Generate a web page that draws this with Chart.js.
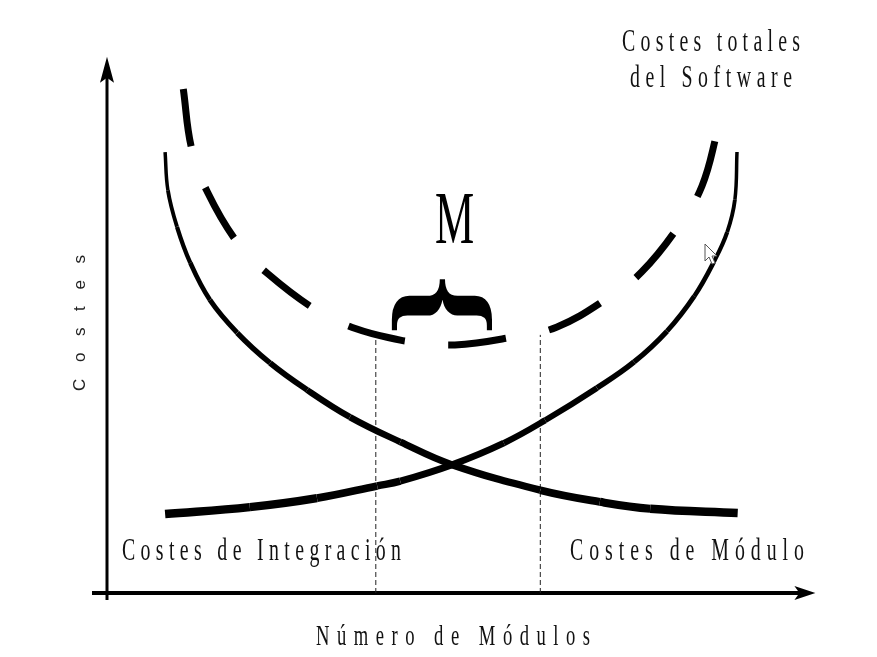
<!DOCTYPE html>
<html>
<head>
<meta charset="utf-8">
<script src="https://cdn.jsdelivr.net/npm/chart.js@4.4.0/dist/chart.umd.min.js"></script>
<style>
  html, body { margin: 0; padding: 0; background: #fff; }
  #contenedor { width: 877px; height: 657px; position: relative; }
</style>
</head>
<body>
<div id="contenedor"><canvas id="grafica"></canvas></div>
<script>
/** Datos (x = numero de modulos, y = costes, unidades arbitrarias) */
let integracion_x = [0.83, 2.04, 3.00, 3.86, 4.19, 4.93, 5.67, 6.26, 7.00, 7.53, 8.00, 8.39, 8.67, 8.86, 8.97, 9.00]
let integracion_y = [1.49, 1.62, 1.79, 2.02, 2.11, 2.42, 2.83, 3.26, 3.87, 4.36, 4.94, 5.60, 6.25, 6.81, 7.42, 8.32]

let modulo_x = [0.83, 0.87, 1.00, 1.19, 1.47, 1.86, 2.33, 2.86, 3.47, 4.19, 4.93, 6.19, 7.04, 7.76, 9.01]
let modulo_y = [8.32, 7.60, 6.91, 6.23, 5.53, 4.91, 4.34, 3.83, 3.32, 2.85, 2.42, 1.94, 1.72, 1.59, 1.51]

let total_x = [1.09, 1.21, 1.44, 1.87, 2.30, 2.99, 3.57, 4.19, 4.36, 4.97, 5.80, 6.43, 7.16, 7.64, 8.17, 8.50, 8.73]
let total_y = [9.51, 8.38, 7.55, 6.60, 6.02, 5.34, 4.98, 4.77, 4.74, 4.68, 4.83, 5.02, 5.57, 6.06, 6.93, 7.68, 8.76]

/** Zona M: limites en x y altura de las lineas punteadas */
let zona_m = [3.84, 6.19]
let altura_m = 4.87

/** Textos */
let titulo_total = ["Costes totales", "del Software"]
let etiquetas_curvas = ["Costes de Integración", "Costes de Módulo"]
let titulo_x = "Número de Módulos"
let titulo_y = "Costes"
let letra_m = "M"

/** Donde cae el origen de los ejes y cuantos pixeles mide una unidad */
let origen_px = [107, 593]
let unidad_px = [70, 53]
let tope_eje = 10.12

function puntos(xs, ys) {
    return xs.map((x, i) => ({ x: x, y: ys[i] }))
}

/** grosor variable: las curvas son mas gruesas en la parte plana */
function grosor(ctx, inicio, fin, n) {
    return inicio + (fin - inicio) * ctx.p0DataIndex / (n - 2)
}

/** letras separadas y estrechas como en el dibujo */
function texto_espaciado(ctx, texto, x0, x1, base, fuente, sx) {
    ctx.font = fuente
    let letras = [...texto]
    let anchos = letras.map(c => ctx.measureText(c).width * sx)
    let total = anchos.reduce((a, b) => a + b, 0)
    let hueco = (x1 - x0 - total) / (letras.length - 1)
    let x = x0
    letras.forEach((c, i) => {
        ctx.save()
        ctx.translate(x, base)
        ctx.scale(sx, 1)
        ctx.fillText(c, 0, 0)
        ctx.restore()
        x += anchos[i] + hueco
    })
}

/** un glifo ajustado a una caja (se usa para la M y la llave) */
function glifo_en_caja(ctx, c, fuente, x0, y0, x1, y1, girar) {
    ctx.font = fuente
    let m = ctx.measureText(c)
    let L = m.actualBoundingBoxLeft, R = m.actualBoundingBoxRight
    let A = m.actualBoundingBoxAscent, D = m.actualBoundingBoxDescent
    ctx.save()
    ctx.translate((x0 + x1) / 2, (y0 + y1) / 2)
    if (girar) {
        ctx.rotate(Math.PI / 2)
        ctx.scale((y1 - y0) / (L + R), (x1 - x0) / (A + D))
    } else {
        ctx.scale((x1 - x0) / (L + R), (y1 - y0) / (A + D))
    }
    ctx.fillText(c, -(R - L) / 2, -(D - A) / 2)
    ctx.restore()
}

let dibujo = {
    id: "dibujo",
    beforeDatasetsDraw: function (chart) {
        let ctx = chart.ctx
        let sx = chart.scales.x, sy = chart.scales.y
        let ox = sx.getPixelForValue(0), oy = sy.getPixelForValue(0)
        let arriba = sy.getPixelForValue(tope_eje), derecha = sx.getPixelForValue(tope_eje)
        ctx.save()
        ctx.strokeStyle = "#000"
        ctx.fillStyle = "#000"
        /** eje y */
        ctx.lineWidth = 3
        ctx.beginPath()
        ctx.moveTo(ox, oy + 7)
        ctx.lineTo(ox, arriba + 18)
        ctx.stroke()
        ctx.beginPath()
        ctx.moveTo(ox, arriba)
        ctx.lineTo(ox - 7, arriba + 26)
        ctx.lineTo(ox, arriba + 21)
        ctx.lineTo(ox + 7, arriba + 26)
        ctx.closePath()
        ctx.fill()
        /** eje x */
        ctx.lineWidth = 4
        ctx.beginPath()
        ctx.moveTo(ox - 15, oy)
        ctx.lineTo(derecha - 14, oy)
        ctx.stroke()
        ctx.beginPath()
        ctx.moveTo(derecha, oy)
        ctx.lineTo(derecha - 21, oy - 7)
        ctx.lineTo(derecha - 16, oy)
        ctx.lineTo(derecha - 21, oy + 7)
        ctx.closePath()
        ctx.fill()
        ctx.restore()
    },
    afterDatasetsDraw: function (chart) {
        let ctx = chart.ctx
        ctx.save()
        ctx.fillStyle = "#111"
        ctx.textAlign = "left"
        ctx.textBaseline = "alphabetic"
        let serif = "'Liberation Serif', 'Times New Roman', serif"
        texto_espaciado(ctx, titulo_total[0], 622, 800, 51, "32px " + serif, 0.62)
        texto_espaciado(ctx, titulo_total[1], 630, 792, 87, "32px " + serif, 0.62)
        texto_espaciado(ctx, etiquetas_curvas[0], 122, 401, 560, "32px " + serif, 0.62)
        texto_espaciado(ctx, etiquetas_curvas[1], 570, 804, 560, "32px " + serif, 0.62)
        texto_espaciado(ctx, titulo_x, 316, 590, 645, "30px " + serif, 0.62)

        /** titulo vertical */
        ctx.fillStyle = "#222"
        ctx.save()
        ctx.translate(85, 391)
        ctx.rotate(-Math.PI / 2)
        texto_espaciado(ctx, titulo_y, 0, 136, 0, "17px 'Liberation Sans', Arial, sans-serif", 1)
        ctx.restore()

        /** M y llave */
        ctx.fillStyle = "#000"
        glifo_en_caja(ctx, letra_m, "100px " + serif, 436, 195, 473, 244, false)
        glifo_en_caja(ctx, "{", "bold 100px " + serif, 391, 279, 491, 331, true)

        /** puntero del raton que sale en la captura */
        ctx.translate(705, 244)
        ctx.beginPath()
        ctx.moveTo(0, 0)
        ctx.lineTo(0, 17)
        ctx.lineTo(4, 13)
        ctx.lineTo(7, 20)
        ctx.lineTo(10, 19)
        ctx.lineTo(7, 12)
        ctx.lineTo(12, 12)
        ctx.closePath()
        ctx.fillStyle = "#fff"
        ctx.fill()
        ctx.strokeStyle = "#555"
        ctx.lineWidth = 1
        ctx.stroke()
        ctx.restore()
    }
}

let ctx = document.getElementById("grafica").getContext("2d")
let grafica = new Chart(ctx, {
    type: "line",
    data: {
        datasets: [{
            label: etiquetas_curvas[0],
            data: puntos(integracion_x, integracion_y),
            borderColor: "#000",
            borderWidth: 6,
            borderCapStyle: "butt",
            pointRadius: 0,
            tension: 0.4,
            clip: false,
            segment: { borderWidth: c => grosor(c, 8.5, 3.5, integracion_x.length) }
        }, {
            label: etiquetas_curvas[1],
            data: puntos(modulo_x, modulo_y),
            borderColor: "#000",
            borderWidth: 6,
            borderCapStyle: "butt",
            pointRadius: 0,
            tension: 0.4,
            clip: false,
            segment: { borderWidth: c => grosor(c, 3.5, 8.5, modulo_x.length) }
        }, {
            label: titulo_total.join(" "),
            data: puntos(total_x, total_y),
            borderColor: "#000",
            borderWidth: 7,
            borderDash: [58, 44],
            borderCapStyle: "butt",
            pointRadius: 0,
            tension: 0.4,
            clip: false
        }, {
            label: "limite 1",
            data: [{ x: zona_m[0], y: 0 }, { x: zona_m[0], y: altura_m }],
            borderColor: "#222",
            borderWidth: 1,
            borderDash: [5, 3],
            pointRadius: 0,
            tension: 0,
            clip: false
        }, {
            label: "limite 2",
            data: [{ x: zona_m[1], y: 0 }, { x: zona_m[1], y: altura_m }],
            borderColor: "#222",
            borderWidth: 1,
            borderDash: [5, 3],
            pointRadius: 0,
            tension: 0,
            clip: false
        }]
    },
    options: {
        responsive: true,
        maintainAspectRatio: false,
        animation: false,
        layout: { padding: 0 },
        plugins: { legend: { display: false }, tooltip: { enabled: false } },
        scales: {
            x: { type: "linear", display: false, min: -origen_px[0] / unidad_px[0], max: (877 - origen_px[0]) / unidad_px[0] },
            y: { type: "linear", display: false, min: -(657 - origen_px[1]) / unidad_px[1], max: origen_px[1] / unidad_px[1] }
        }
    },
    plugins: [dibujo]
});
</script>
</body>
</html>
